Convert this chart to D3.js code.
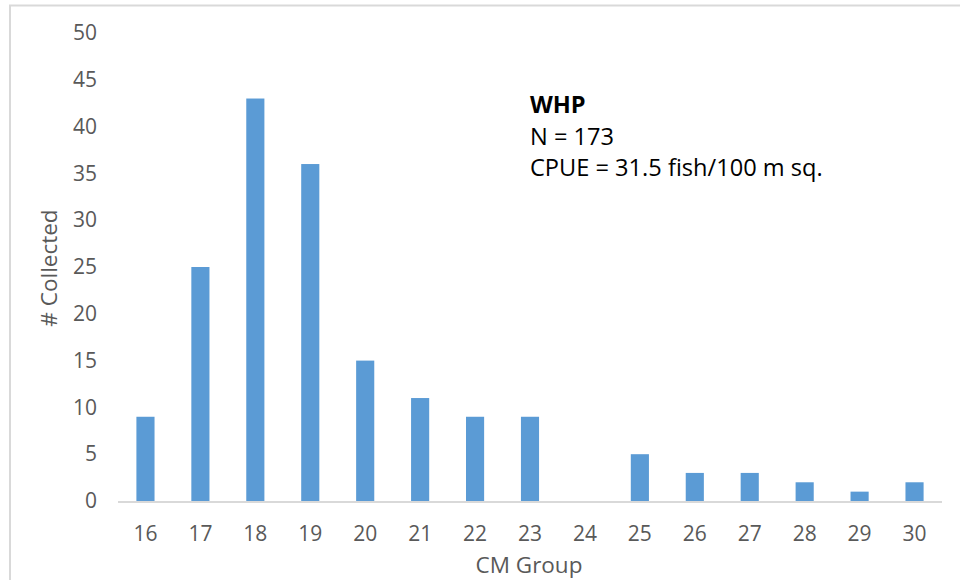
<!DOCTYPE html>
<html><head><meta charset="utf-8">
<script src="https://cdn.jsdelivr.net/npm/d3@7"></script>
<style>body{margin:0;background:#fff;} svg{display:block;font-family:"Open Sans",sans-serif;}</style>
</head><body>
<script>
const categories = ["16","17","18","19","20","21","22","23","24","25","26","27","28","29","30"];
const counts = [9,25,43,36,15,11,9,9,0,5,3,3,2,1,2];
const yTicks = [0,5,10,15,20,25,30,35,40,45,50];
const annotation = ["WHP","N = 173","CPUE = 31.5 fish/100 m sq."];

const W=960,H=580;
const svg=d3.select("body").append("svg").attr("width",W).attr("height",H);
// frame
svg.append("path").attr("d","M10,580 V5.5 H960").attr("fill","none").attr("stroke","#d9d9d9").attr("stroke-width",2);

const x=d3.scaleBand().domain(categories).range([118,942]).paddingInner(0.67).paddingOuter(0.335);
const y=d3.scaleLinear().domain([0,50]).range([501,33]);

svg.selectAll("rect.bar").data(counts).join("rect").attr("class","bar")
  .attr("x",(d,i)=>x(categories[i])).attr("width",x.bandwidth())
  .attr("y",d=>y(d)).attr("height",d=>y(0)-y(d)).attr("fill","#5b9bd5");

// x axis line
svg.append("line").attr("x1",118).attr("x2",942).attr("y1",y(0)+1).attr("y2",y(0)+1).attr("stroke","#d9d9d9").attr("stroke-width",2);

const xa=svg.append("g").attr("transform",`translate(0,${y(0)+1})`).call(d3.axisBottom(x).tickSize(0).tickPadding(24));
xa.select(".domain").remove();
xa.selectAll("text").attr("font-size",21).attr("fill","#595959").attr("font-family","Open Sans, sans-serif");

const ya=svg.append("g").attr("transform","translate(97,0)").call(d3.axisLeft(y).tickValues(yTicks).tickSize(0).tickPadding(0));
ya.select(".domain").remove();
ya.selectAll("text").attr("font-size",21).attr("fill","#595959").attr("font-family","Open Sans, sans-serif");

svg.append("text").attr("transform","translate(48,268) rotate(-90)").attr("text-anchor","middle").attr("dominant-baseline","central")
  .attr("font-size",22.5).attr("fill","#595959").text("# Collected");
svg.append("text").attr("x",529).attr("y",564).attr("text-anchor","middle").attr("dominant-baseline","central")
  .attr("font-size",22.5).attr("fill","#595959").text("CM Group");

const ann=svg.append("g");
annotation.forEach((t,i)=>{
  ann.append("text").attr("x",530).attr("y",113+i*31.5).attr("font-size",23.6).attr("fill","#000")
    .attr("font-weight",i===0?"bold":"normal").text(t);
});
</script>
</body></html>
